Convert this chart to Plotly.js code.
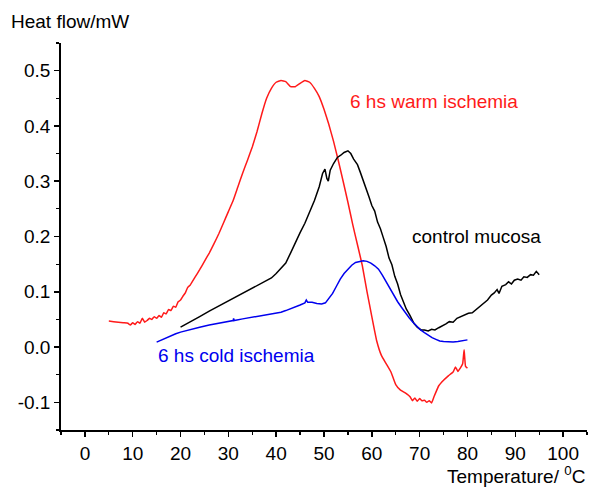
<!DOCTYPE html>
<html>
<head>
<meta charset="utf-8">
<script src="https://cdn.plot.ly/plotly-3.0.1.min.js"></script>
<style>html,body{margin:0;padding:0;background:#fff;}#chart{width:589px;height:488px;}</style>
</head>
<body>
<div id="chart"></div>
<script>
// Warm ischemia (red)
const warmX = [5,6,7,8,9,9.5,10,10.5,11,11.5,12,12.5,13,13.5,14,14.5,15,15.5,16,16.5,17,17.5,18,18.5,19,19.5,20,20.5,21,21.5,22,23,24,25,26,27,28,29,30,31,32,33,34,35,36,37,38,39,40,41,42,43,44,45,46,47,48,49,50,51,52,53,54,55,56,57,58,59,60,61,62,63,64,65,66,67,68,68.5,69,69.5,70,70.5,71,71.5,72,72.5,73,74,75,76,77,77.5,78,78.5,79,79.3,79.6,80];
const warmY = [0.047,0.046,0.045,0.044,0.043,0.040,0.044,0.041,0.046,0.043,0.052,0.045,0.048,0.052,0.050,0.055,0.052,0.057,0.054,0.062,0.060,0.068,0.066,0.074,0.072,0.082,0.085,0.092,0.098,0.108,0.112,0.126,0.140,0.155,0.170,0.187,0.205,0.225,0.245,0.265,0.290,0.315,0.338,0.362,0.390,0.422,0.450,0.468,0.479,0.482,0.480,0.471,0.471,0.477,0.482,0.479,0.468,0.453,0.430,0.403,0.372,0.337,0.300,0.262,0.222,0.185,0.148,0.100,0.055,0.012,-0.015,-0.030,-0.045,-0.068,-0.078,-0.083,-0.090,-0.097,-0.092,-0.098,-0.093,-0.097,-0.096,-0.100,-0.097,-0.101,-0.090,-0.070,-0.060,-0.052,-0.045,-0.036,-0.044,-0.038,-0.030,-0.005,-0.035,-0.038];
// Control mucosa (black)
const ctrlX = [20,22,24,26,28,30,32,34,36,37.5,39,40,41,42,43,44,45,46,47,48,49,49.7,50.2,50.6,50.9,51.3,52,52.8,53.5,54.2,55,55.6,56.2,57,57.6,58.2,58.8,59.4,60,60.6,61.2,61.8,62.4,63,63.6,64.2,64.8,65.4,66,66.6,67.2,68,68.8,69.5,70.3,71,71.8,72.5,73.2,74,74.8,75.5,76.2,77,77.8,78.6,79.4,80.2,81,81.8,82.6,83.4,84.2,85,85.6,86.2,86.6,87.2,88,88.6,89.2,89.8,90.5,91.2,91.8,92.5,93.2,93.8,94.4,95];
const ctrlY = [0.036,0.045,0.055,0.065,0.074,0.083,0.092,0.101,0.110,0.117,0.125,0.133,0.142,0.152,0.170,0.190,0.207,0.224,0.243,0.265,0.290,0.314,0.322,0.305,0.300,0.320,0.332,0.343,0.347,0.352,0.355,0.350,0.340,0.330,0.316,0.302,0.286,0.272,0.256,0.246,0.226,0.214,0.198,0.182,0.161,0.149,0.128,0.114,0.095,0.082,0.069,0.057,0.043,0.036,0.031,0.031,0.029,0.032,0.031,0.035,0.038,0.042,0.046,0.045,0.052,0.055,0.058,0.061,0.062,0.068,0.073,0.080,0.085,0.094,0.098,0.104,0.097,0.110,0.113,0.118,0.114,0.121,0.123,0.121,0.127,0.126,0.131,0.130,0.137,0.131];
// Cold ischemia (blue)
const coldX = [15,16,17,18,19,20,22,24,26,28,30,31,31.1,31.2,33,35,37,39,41,42,43,44,45,46,46.3,46.6,47.5,48.5,49.5,50.3,51,51.8,52.6,53.4,54.2,55,55.8,56.6,57.4,58.2,59,59.8,60.6,61.4,62.2,63,63.8,64.6,65.4,66.2,67,67.8,68.6,69.4,70.2,71,71.8,72.6,73.4,74.2,75,76,77,78,79,80];
const coldY = [0.009,0.013,0.017,0.021,0.024,0.027,0.032,0.036,0.040,0.043,0.046,0.048,0.052,0.048,0.051,0.054,0.057,0.060,0.063,0.066,0.069,0.072,0.076,0.080,0.085,0.081,0.081,0.079,0.078,0.080,0.087,0.097,0.110,0.123,0.133,0.141,0.148,0.153,0.155,0.156,0.155,0.152,0.147,0.141,0.130,0.118,0.105,0.093,0.082,0.072,0.062,0.053,0.045,0.037,0.031,0.026,0.021,0.017,0.014,0.011,0.010,0.009,0.009,0.010,0.011,0.013];
const yTickVals = [-0.1,0,0.1,0.2,0.3,0.4,0.5];
const yTickText = ["-0.1","0.0","0.1","0.2","0.3","0.4","0.5"];
const xTickVals = [0,10,20,30,40,50,60,70,80,90,100];
const xTickText = ["0","10","20","30","40","50","60","70","80","90","100"];

const font = "Liberation Sans, Arial, sans-serif";
const fs = 19;
const lw = 1.5;
const traces = [
  {x: warmX, y: warmY, mode: 'lines', line: {color: '#ff1a1a', width: lw, shape: 'spline', smoothing: 0.3}, name: '6 hs warm ischemia'},
  {x: ctrlX, y: ctrlY, mode: 'lines', line: {color: '#000000', width: lw}, name: 'control mucosa'},
  {x: coldX, y: coldY, mode: 'lines', line: {color: '#0000ee', width: lw}, name: '6 hs cold ischemia'}
];
const layout = {
  width: 589, height: 488,
  margin: {l: 61, r: 2, t: 43, b: 58},
  paper_bgcolor: '#fff', plot_bgcolor: '#fff',
  showlegend: false,
  font: {family: font, size: fs, color: '#000'},
  xaxis: {
    range: [-5, 105], tickmode: 'array', tickvals: xTickVals, ticktext: xTickText,
    ticks: 'outside', ticklen: 5, tickwidth: 1.5, tickcolor: '#000',
    minor: {tickmode: 'linear', tick0: -5, dtick: 5, ticks: 'outside', ticklen: 3, tickwidth: 1.2, tickcolor: '#000'},
    showline: true, linewidth: 1.8, linecolor: '#000', showgrid: false, zeroline: false,
    tickfont: {family: font, size: fs, color: '#000'}
  },
  yaxis: {
    range: [-0.15, 0.55], tickmode: 'array', tickvals: yTickVals, ticktext: yTickText,
    ticks: 'outside', ticklen: 5, tickwidth: 1.5, tickcolor: '#000',
    minor: {tickmode: 'linear', tick0: -0.15, dtick: 0.05, ticks: 'outside', ticklen: 3, tickwidth: 1.2, tickcolor: '#000'},
    showline: true, linewidth: 1.8, linecolor: '#000', showgrid: false, zeroline: false,
    tickfont: {family: font, size: fs, color: '#000'}
  },
  annotations: [
    {text: 'Heat flow/mW', xref: 'paper', yref: 'paper', x: -0.098, y: 1.0, xanchor: 'left', yanchor: 'bottom', yshift: 9, showarrow: false, font: {family: font, size: fs, color: '#000'}},
    {text: 'Temperature/ <sup>0</sup>C', xref: 'paper', yref: 'paper', x: 1.0, y: 0, xanchor: 'right', yanchor: 'top', yshift: -31, showarrow: false, font: {family: font, size: fs, color: '#000'}},
    {text: '6 hs warm ischemia', xref: 'x', yref: 'y', x: 55.0, y: 0.444, xanchor: 'left', yanchor: 'middle', showarrow: false, font: {family: font, size: fs, color: '#ff1a1a'}},
    {text: 'control mucosa', xref: 'x', yref: 'y', x: 68.0, y: 0.200, xanchor: 'left', yanchor: 'middle', showarrow: false, font: {family: font, size: fs, color: '#000'}},
    {text: '6 hs cold ischemia', xref: 'x', yref: 'y', x: 14.8, y: -0.016, xanchor: 'left', yanchor: 'middle', showarrow: false, font: {family: font, size: fs, color: '#0000ee'}}
  ]
};
Plotly.newPlot('chart', traces, layout, {staticPlot: true, displayModeBar: false});
</script>
</body>
</html>
